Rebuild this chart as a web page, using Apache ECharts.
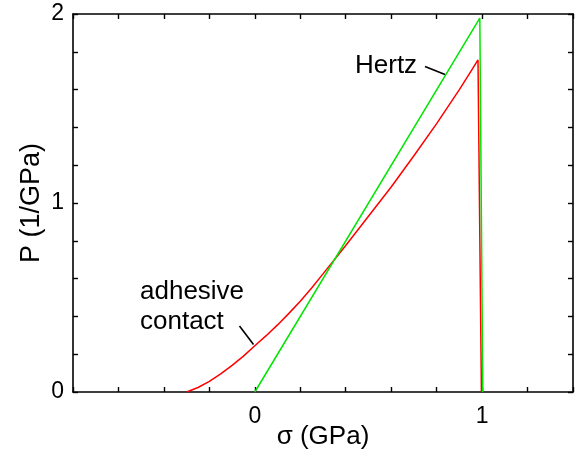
<!DOCTYPE html>
<html>
<head>
<meta charset="utf-8">
<script src="https://cdn.jsdelivr.net/npm/echarts@6/dist/echarts.min.js"></script>
<style>
html,body{margin:0;padding:0;background:#fff;}
#chart{width:579px;height:454px;}
</style>
</head>
<body>
<div id="chart"></div>
<script>
// Hertz distribution (green)
const hertzSigma = [0, 0.99, 1.003];
const hertzP     = [0, 1.978, 0];
// adhesive contact distribution (red)
const adhesiveSigma = [-0.3, -0.25, -0.2, -0.15, -0.1, -0.05, 0, 0.05, 0.1, 0.15, 0.2, 0.25, 0.3, 0.4, 0.5, 0.6, 0.7, 0.8, 0.9, 0.95, 0.982, 0.997];
const adhesiveP     = [0, 0.024, 0.056, 0.096, 0.141, 0.19, 0.245, 0.298, 0.355, 0.416, 0.48, 0.55, 0.625, 0.775, 0.93, 1.085, 1.25, 1.42, 1.6, 1.695, 1.757, 0];
// tick labels
const xTickLabels = [0, 1];
const yTickLabels = [0, 1, 2];
const annotations = ['Hertz', 'adhesive\ncontact'];
const xName = 'σ (GPa)';
const yName = 'P (1/GPa)';

const FONT = 'Liberation Sans, Arial, Helvetica, sans-serif';
const zip = (a, b) => a.map((v, i) => [v, b[i]]);
const near = (v, arr) => arr.some(t => Math.abs(v - t) < 1e-6);

const chart = echarts.init(document.getElementById('chart'), null, {renderer: 'canvas'});

const axisCommon = {
  axisLine: {show: true, onZero: false, lineStyle: {color: '#000', width: 1.6}},
  axisTick: {show: true, inside: true, length: 5, lineStyle: {color: '#000', width: 1.4}},
  splitLine: {show: false}
};

chart.setOption({
  animation: false,
  backgroundColor: '#fff',
  grid: {left: 73, right: 6, top: 14, bottom: 62, containLabel: false, outerBoundsMode: 'none'},
  xAxis: [
    Object.assign({
      type: 'value', min: -0.8, max: 1.4, interval: 0.2, position: 'bottom',
      name: xName, nameLocation: 'middle', nameGap: 32, nameMoveOverlap: false,
      nameTextStyle: {fontFamily: FONT, fontSize: 26, color: '#000'},
      axisLabel: {
        show: true, margin: 13, fontFamily: FONT, fontSize: 23, color: '#000',
        formatter: v => near(v, xTickLabels) ? String(Math.round(v)) : ''
      }
    }, axisCommon),
    Object.assign({
      type: 'value', min: -0.8, max: 1.4, interval: 0.2, position: 'top',
      axisLabel: {show: false}
    }, axisCommon)
  ],
  yAxis: [
    Object.assign({
      type: 'value', min: 0, max: 2, interval: 0.2, position: 'left',
      name: yName, nameLocation: 'middle', nameGap: 28, nameRotate: 90, nameMoveOverlap: false,
      nameTextStyle: {fontFamily: FONT, fontSize: 27, color: '#000'},
      axisLabel: {
        show: true, margin: 9, fontFamily: FONT, fontSize: 23, color: '#000',
        formatter: v => near(v, yTickLabels) ? String(Math.round(v)) : ''
      }
    }, axisCommon),
    Object.assign({
      type: 'value', min: 0, max: 2, interval: 0.2, position: 'right',
      axisLabel: {show: false}
    }, axisCommon)
  ],
  series: [
    {
      name: 'adhesive contact', type: 'line', xAxisIndex: 0, yAxisIndex: 0,
      data: zip(adhesiveSigma, adhesiveP), showSymbol: false, symbol: 'none',
      lineStyle: {color: '#ff0000', width: 1.5}, z: 2, silent: true
    },
    {
      name: 'Hertz', type: 'line', xAxisIndex: 0, yAxisIndex: 0,
      data: zip(hertzSigma, hertzP), showSymbol: false, symbol: 'none',
      lineStyle: {color: '#00e600', width: 1.5}, z: 3, silent: true
    }
  ],
  graphic: [
    {type: 'text', left: 355, top: 53, style: {text: annotations[0], font: '26px ' + FONT, fill: '#000'}},
    {type: 'line', shape: {x1: 425, y1: 66.5, x2: 445, y2: 74.5}, style: {stroke: '#000', lineWidth: 1.6}},
    {type: 'text', left: 140, top: 277, style: {text: annotations[1], font: '26px ' + FONT, fill: '#000', lineHeight: 30}},
    {type: 'line', shape: {x1: 239.5, y1: 326, x2: 253.5, y2: 344.5}, style: {stroke: '#000', lineWidth: 1.6}}
  ]
});
</script>
</body>
</html>
